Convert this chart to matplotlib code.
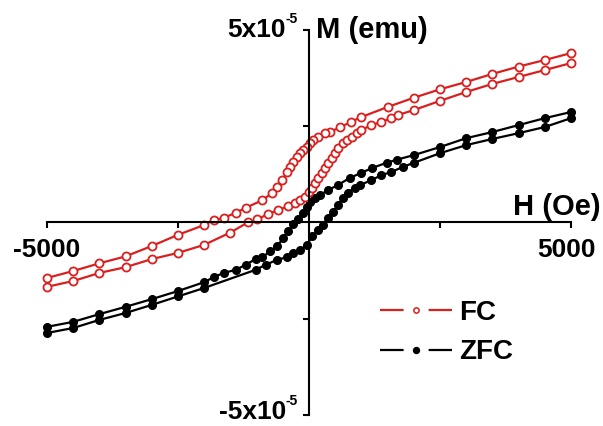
import numpy as np
import matplotlib
matplotlib.use("Agg")
import matplotlib.pyplot as plt
from matplotlib.lines import Line2D

plt.rcParams['font.family'] = ['Liberation Sans', 'DejaVu Sans']
plt.rcParams['font.weight'] = 'bold'
plt.rcParams['lines.scale_dashes'] = False

# magnetisation in units of 1e-5 emu, field in Oe
# FC, descending field branch
fc_down_H = [5000, 4500, 4000, 3500, 3000, 2500, 2000, 1500, 1000, 800, 600, 400, 300, 170, 80, 20,
             -40, -110, -170, -230, -300, -360, -420, -510, -610, -700, -890, -1210, -1400, -1630,
             -1820, -2010, -2500, -3000, -3500, -4000, -4500, -5000]
fc_down_M = [4.40, 4.22, 4.05, 3.86, 3.65, 3.46, 3.24, 3.00, 2.74, 2.61, 2.48, 2.35, 2.32, 2.22, 2.14, 2.06,
             1.96, 1.88, 1.80, 1.70, 1.57, 1.44, 1.31, 1.10, 0.92, 0.77, 0.58, 0.38, 0.25, 0.12,
             0.06, -0.07, -0.32, -0.61, -0.88, -1.06, -1.26, -1.44]
# FC, ascending field branch
fc_up_H = [-5000, -4500, -4000, -3500, -3000, -2500, -2000, -1500, -1170, -990, -780, -600, -400, -270,
           -170, -80, 0, 60, 115, 170, 245, 300, 360, 435, 490, 550, 645, 720, 815, 910, 1000, 1190,
           1380, 1570, 1690, 2000, 2500, 3000, 3500, 4000, 4500, 5000]
fc_up_M = [-1.67, -1.52, -1.31, -1.16, -0.95, -0.79, -0.58, -0.26, 0.0, 0.08, 0.22, 0.32, 0.42, 0.51,
           0.58, 0.66, 0.79, 0.90, 1.03, 1.16, 1.29, 1.42, 1.55, 1.68, 1.80, 1.94, 2.06, 2.14, 2.22, 2.32,
           2.40, 2.53, 2.61, 2.71, 2.79, 2.92, 3.16, 3.39, 3.60, 3.78, 3.96, 4.14]
# ZFC, descending field branch
zfc_down_H = [5000, 4500, 4000, 3500, 3000, 2500, 2000, 1670, 1480, 1210, 1000, 780, 550, 360, 210, 110,
              20, -40, -110, -210, -300, -400, -490, -610, -740, -890, -1020, -1210, -1400, -1630,
              -1820, -2000, -2500, -3000, -3500, -4000, -4500, -5000]
zfc_down_M = [2.87, 2.71, 2.53, 2.35, 2.19, 1.96, 1.75, 1.63, 1.55, 1.42, 1.29, 1.16, 0.97, 0.84, 0.71, 0.64,
              0.53, 0.40, 0.25, 0.08, -0.05, -0.22, -0.40, -0.62, -0.75, -0.90, -0.95, -1.10, -1.23, -1.31,
              -1.42, -1.55, -1.78, -1.99, -2.19, -2.38, -2.58, -2.71]
# ZFC, ascending field branch
zfc_up_H = [-5000, -4500, -4000, -3500, -3000, -2500, -2000, -1020, -830, -610, -420, -300, -170, -40,
            60, 170, 265, 360, 455, 550, 645, 740, 870, 970, 1190, 1380, 1570, 1800, 2000, 2500, 3000,
            3500, 4000, 4500, 5000]
zfc_up_M = [-2.87, -2.74, -2.53, -2.35, -2.14, -1.92, -1.70, -1.23, -1.10, -0.97, -0.90, -0.79, -0.71, -0.58,
            -0.36, -0.20, -0.06, 0.12, 0.27, 0.45, 0.64, 0.77, 0.90, 0.97, 1.10, 1.23, 1.31, 1.45, 1.55, 1.80,
            2.01, 2.17, 2.32, 2.48, 2.71]

red = "#d9201f"
fs = 19

fig = plt.figure(figsize=(6.03, 4.26), dpi=100)
ax = fig.add_axes([47/603, 1-415/426, 524/603, 385/426])

for H, M in [(zfc_down_H, zfc_down_M), (zfc_up_H, zfc_up_M)]:
    ax.plot(H, np.array(M)*1e-5, '-o', color='black', lw=1.6, ms=5.5, mec='black', mfc='black', clip_on=False)
for H, M in [(fc_down_H, fc_down_M), (fc_up_H, fc_up_M)]:
    ax.plot(H, np.array(M)*1e-5, '-o', color=red, lw=1.6, ms=5.8, mec=red, mfc='white', mew=1.3, clip_on=False)

ax.set_xlim(-5000, 5000)
ax.set_ylim(-5e-5, 5e-5)
for s in ['top', 'right']:
    ax.spines[s].set_visible(False)
ax.spines['left'].set_position(('data', 0))
ax.spines['bottom'].set_position(('data', 0))
ax.spines['left'].set_linewidth(1.5)
ax.spines['bottom'].set_linewidth(1.5)
ax.set_xticks([-5000, -2500, 2500, 5000])
ax.set_yticks([-5e-5, -2.5e-5, 2.5e-5, 5e-5])
ax.set_xticklabels([])
ax.set_yticklabels([])
ax.tick_params(direction='out', length=4, width=1.5)

ax.annotate("-5000", xy=(-5000, 0), xytext=(0, -11), textcoords='offset points',
            ha='center', va='top', fontsize=fs, fontweight='bold')
ax.annotate("5000", xy=(5000, 0), xytext=(-3, -11), textcoords='offset points',
            ha='center', va='top', fontsize=fs, fontweight='bold')

# y limit labels, with a small raised exponent
for yv, main, dy in [(5e-5, "5x10", 0), (-5e-5, "-5x10", 2)]:
    ax.annotate(main, xy=(0, yv), xytext=(-16.5, dy), textcoords='offset points',
                ha='right', va='center', fontsize=fs, fontweight='bold')
    ax.annotate("-5", xy=(0, yv), xytext=(-8, dy + 3), textcoords='offset points',
                ha='right', va='bottom', fontsize=10, fontweight='bold')

ax.annotate("M (emu)", xy=(0, 5e-5), xytext=(5, 0), textcoords='offset points',
            ha='left', va='center', fontsize=21, fontweight='bold')
ax.annotate("H (Oe)", xy=(5000, 0), xytext=(21, 1), textcoords='offset points',
            ha='right', va='bottom', fontsize=21, fontweight='bold', annotation_clip=False)

handles = [
    Line2D([], [], color=red, lw=1.6, dashes=(17, 18), marker='o', ms=3.8, mfc='white', mec=red, mew=1.1),
    Line2D([], [], color='black', lw=1.6, dashes=(17, 18), marker='o', ms=4.3, mfc='black', mec='black'),
]
ax.legend(handles, ["FC", "ZFC"], loc='upper left', bbox_to_anchor=(380/603, 1-300/426),
          bbox_transform=fig.transFigure, frameon=False, numpoints=1, handlelength=2.6,
          handletextpad=0.25, labelspacing=0.48, borderpad=0, borderaxespad=0,
          prop={'family': 'Liberation Sans', 'weight': 'bold', 'size': 20})

fig.savefig("out.png", dpi=100)
